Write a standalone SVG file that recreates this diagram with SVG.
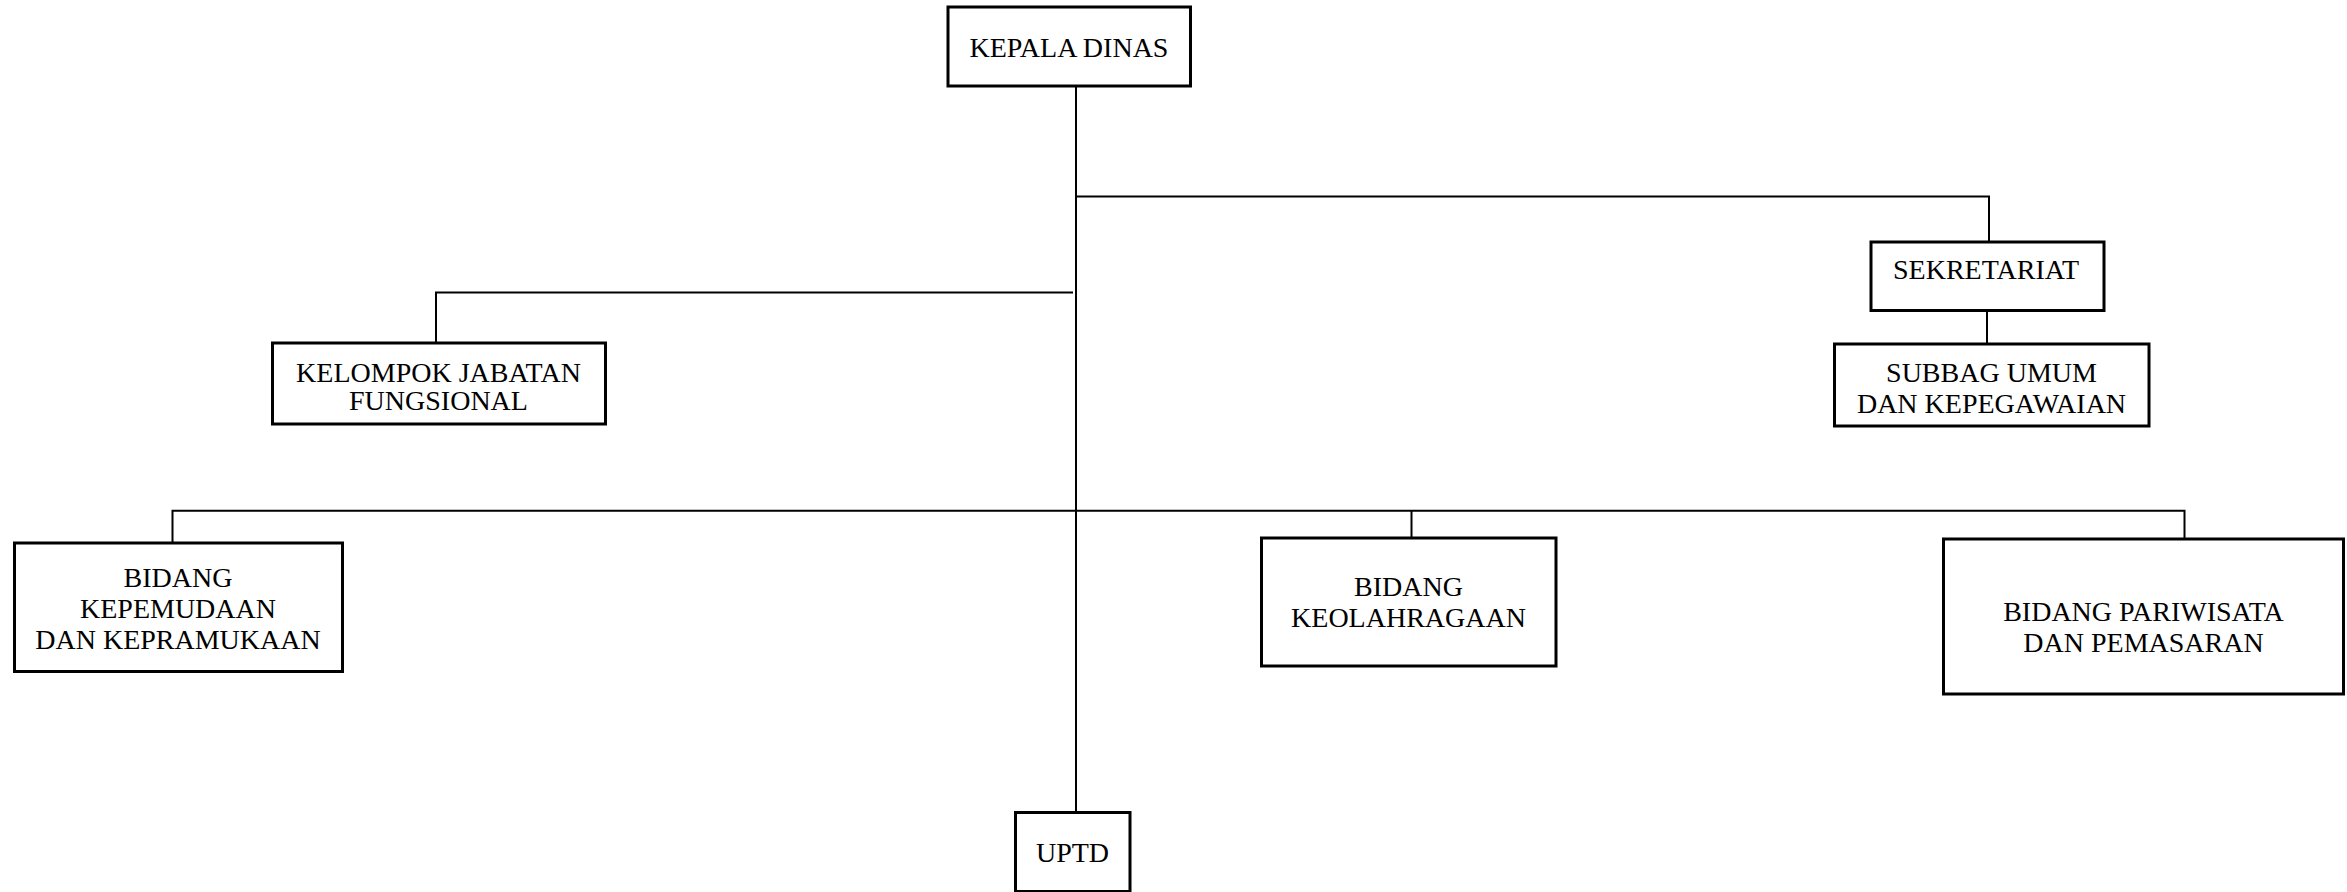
<svg xmlns="http://www.w3.org/2000/svg" width="2347" height="892" viewBox="0 0 2347 892">
  <style>
    .box { fill: #ffffff; stroke: #000000; stroke-width: 3; }
    .conn { fill: none; stroke: #000000; stroke-width: 2; }
    .label { font-family: "Liberation Serif", "Times New Roman", serif; font-size: 28px; fill: #000000; text-anchor: middle; }
  </style>
  <rect width="2347" height="892" fill="#ffffff"/>

  <!-- connectors -->
  <g id="connectors">
    <!-- main trunk from Kepala Dinas down to UPTD -->
    <line class="conn" x1="1076" y1="86" x2="1076" y2="812"/>
    <!-- branch to Sekretariat -->
    <polyline class="conn" points="1076,196.5 1989,196.5 1989,242"/>
    <!-- Sekretariat to Subbag -->
    <line class="conn" x1="1987" y1="311" x2="1987" y2="344"/>
    <!-- branch to Kelompok Jabatan Fungsional -->
    <polyline class="conn" points="1073,292.5 436,292.5 436,342"/>
    <!-- bus to the bidang boxes -->
    <polyline class="conn" points="172.5,543 172.5,510.8 2184.5,510.8 2184.5,539"/>
    <line class="conn" x1="1411.5" y1="510.8" x2="1411.5" y2="538"/>
  </g>

  <g id="kepala-dinas">
    <rect class="box" x="948" y="7" width="242.5" height="79"/>
    <text class="label" x="1069" y="57">KEPALA DINAS</text>
  </g>

  <g id="sekretariat">
    <rect class="box" x="1871" y="242" width="233" height="68.5"/>
    <text class="label" x="1986" y="278.5">SEKRETARIAT</text>
  </g>

  <g id="subbag-umum">
    <rect class="box" x="1834.5" y="344" width="314.5" height="82"/>
    <text class="label" x="1991.5" y="382">SUBBAG UMUM</text>
    <text class="label" x="1991.5" y="413">DAN KEPEGAWAIAN</text>
  </g>

  <g id="kelompok-jabatan-fungsional">
    <rect class="box" x="272.5" y="343" width="333" height="81"/>
    <text class="label" x="438.5" y="382">KELOMPOK JABATAN</text>
    <text class="label" x="438.5" y="410">FUNGSIONAL</text>
  </g>

  <g id="bidang-kepemudaan">
    <rect class="box" x="14.5" y="543" width="328" height="128.5"/>
    <text class="label" x="178" y="587">BIDANG</text>
    <text class="label" x="178" y="618">KEPEMUDAAN</text>
    <text class="label" x="178" y="648.5">DAN KEPRAMUKAAN</text>
  </g>

  <g id="bidang-keolahragaan">
    <rect class="box" x="1261.5" y="538" width="294.5" height="128"/>
    <text class="label" x="1408.5" y="596">BIDANG</text>
    <text class="label" x="1408.5" y="627">KEOLAHRAGAAN</text>
  </g>

  <g id="bidang-pariwisata">
    <rect class="box" x="1943.5" y="539" width="400" height="155"/>
    <text class="label" x="2143.5" y="621">BIDANG PARIWISATA</text>
    <text class="label" x="2143.5" y="652">DAN PEMASARAN</text>
  </g>

  <g id="uptd">
    <rect class="box" x="1015.5" y="812.5" width="114.5" height="79"/>
    <text class="label" x="1072.5" y="862">UPTD</text>
  </g>
</svg>
